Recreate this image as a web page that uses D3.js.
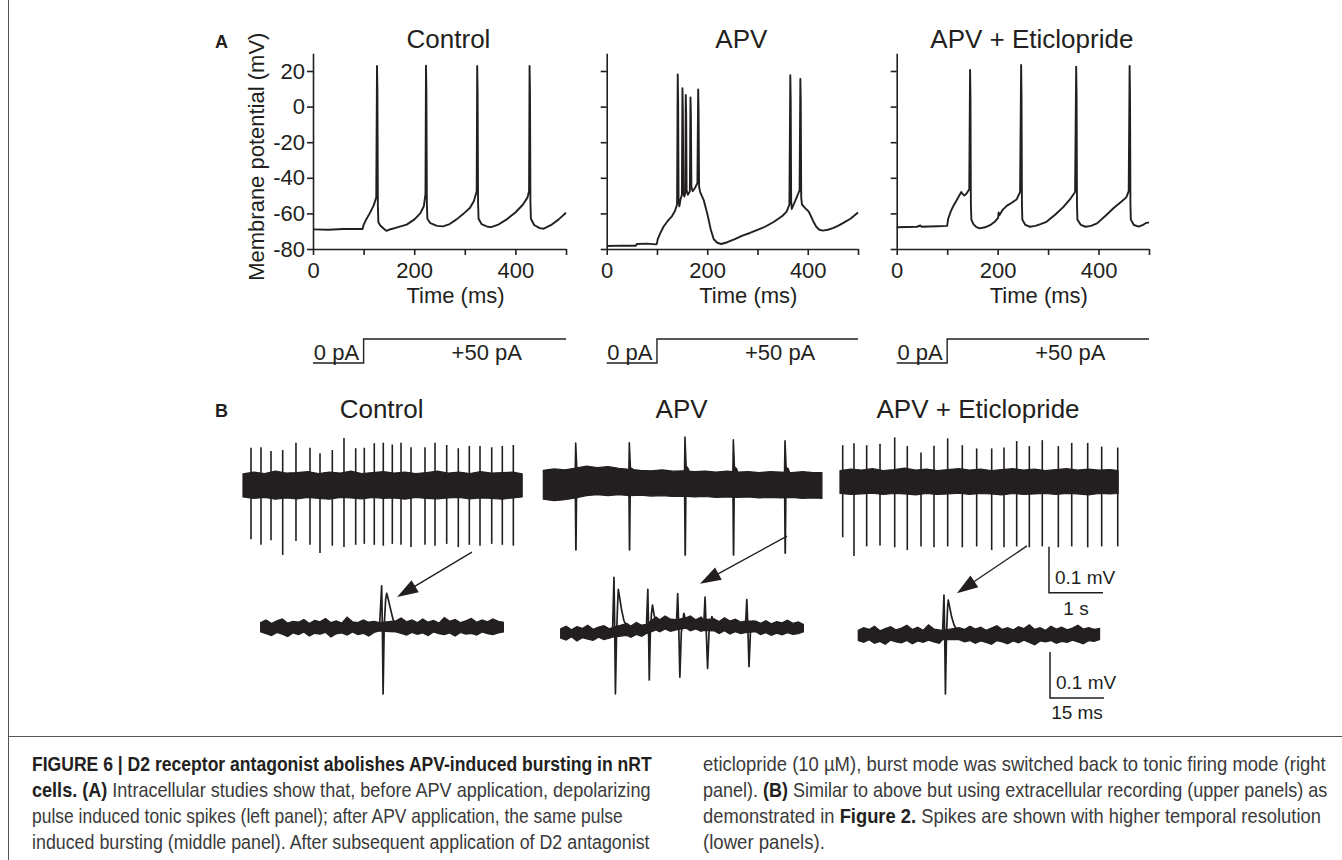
<!DOCTYPE html>
<html><head><meta charset="utf-8">
<script src="https://cdn.jsdelivr.net/npm/d3@7"></script>
<style>
body{margin:0;background:#fff;}
svg{display:block;font-family:"Liberation Sans",Arial,Helvetica,sans-serif;}
</style>
</head><body>
<svg id="fig" width="1342" height="860"></svg>
<script>
// ===================== DATA =====================
// Panel A: intracellular traces (time ms, membrane potential mV)
const panelTitles = ["Control", "APV", "APV + Eticlopride"];
const yTicksA = [-80, -60, -40, -20, 0, 20];
const xTicksA = [0, 100, 200, 300, 400, 500];
const xTickLabelsA = ["0", "", "200", "", "400", ""];
const stimLevels = [0, 50];          // pA
const stimOnset = 100;               // ms
const stimLabels = ["0 pA", "+50 pA"];

const controlTrace = [[0,-69.0],[30,-69.2],[60,-68.8],[98,-68.8],[100,-66.5],[104,-64],[112,-60],[120,-55.5],[125,-51],[126.5,22.8],[127.3,8],[128.2,-56],[129.2,-65],[133,-66.8],[140,-68.6],[145,-69.8],[150,-69.2],[165,-68],[185,-66.3],[200,-63.5],[212,-60],[219,-56],[222.3,-49],[223.3,23],[224.1,8],[225,-54],[226,-63],[232,-65.5],[245,-67],[257,-67.3],[270,-66],[283,-63.5],[298,-60],[310,-57],[318,-53],[323.5,-47.5],[324.5,22.8],[325.3,8],[326.2,-54],[327.2,-63],[333,-66],[345,-67.5],[352,-67.7],[365,-66.5],[382,-63.5],[400,-59.5],[415,-55],[424,-51],[427,-47.5],[428,22.8],[428.8,8],[429.7,-54],[430.7,-63],[437,-66.5],[448,-68.3],[456,-68.6],[470,-66.6],[485,-63.5],[500,-59.6]];

const apvTrace = [[0,-78.3],[30,-78.1],[58,-78.2],[60,-77.2],[80,-77.0],[98,-77.4],[100,-77],[101.5,-74.5],[106,-71.5],[113,-67.5],[122,-64],[130,-61.5],[136,-58.5],[140,-55],[141.3,18],[142.1,4],[143,-52],[144.5,-56],[147,-52],[149.6,-49.5],[150.7,10.3],[151.5,-2],[152.5,-49],[154.5,-50.5],[156.3,-48.5],[157.3,6.5],[158.1,-4],[159,-47],[161.5,-49.5],[165.5,-47.5],[166.7,5.2],[167.5,-5],[168.5,-45],[171,-47.5],[175,-46],[180.5,-43],[182,9.7],[182.8,-2],[183.8,-45],[186,-48],[193,-52.5],[200,-60],[207,-69],[213,-74.5],[220,-76.5],[228,-77.2],[240,-76.2],[255,-74.5],[270,-72.5],[285,-71],[300,-69.3],[315,-67.5],[333,-64.7],[350,-61.3],[358,-59],[363.5,-55],[365.3,17.7],[366.1,4],[367,-53],[368.2,-57.5],[372,-55],[378,-51],[383.8,-47],[385.3,15.5],[386.1,4],[387,-51],[388.5,-55],[395,-57],[402,-59],[407,-62],[412,-65],[417,-67.5],[423,-69.2],[430,-69.7],[440,-69.2],[450,-68.3],[460,-67],[470,-65.5],[485,-63],[500,-59.5]];

const eticTrace = [[0,-67.8],[40,-67.5],[47,-66.8],[49,-67.5],[80,-67.2],[100,-67],[102,-63],[107,-59],[112,-56],[118,-53],[123,-50.5],[128,-48],[131,-49.2],[134,-50],[138,-49],[143.8,-46.5],[145.4,20.6],[146.2,5],[147,-55],[148,-63.5],[152,-66],[158,-67.7],[165,-68.4],[175,-67.8],[185,-66.6],[195,-64.5],[201,-62.5],[202,-59.5],[203.5,-61],[210,-58],[218,-55.8],[228,-54],[238,-52],[244.5,-48],[246.6,23.4],[247.4,5],[248.2,-55],[249,-63.5],[255,-66.5],[264,-67.5],[275,-67],[285,-66],[297,-64.7],[315,-60.5],[330,-56.5],[345,-51.5],[353.5,-48],[355.7,22.4],[356.5,5],[357.3,-55],[358.1,-63.5],[365,-66.5],[374,-67.5],[385,-67],[397,-65.6],[415,-61],[430,-57],[445,-53.5],[455,-51],[459.8,-47.5],[461.6,22.8],[462.4,5],[463.2,-55],[464,-63.5],[470,-66.5],[480,-67.4],[488,-66.5],[493,-65.5],[500,-65]];

// Panel B upper: extracellular recording (time s, mV relative to baseline)
const ctrlUpDur = 5.17;
const ctrlUpSpikeT = [0.148,0.333,0.519,0.735,0.981,1.241,1.426,1.654,1.870,2.087,2.246,2.431,2.598,2.765,2.926,3.111,3.370,3.556,3.772,3.987,4.191,4.389,4.606,4.802,5.006];
const ctrlUpPeak = [0.081,0.082,0.074,0.076,0.092,0.081,0.069,0.076,0.102,0.080,0.081,0.091,0.092,0.088,0.092,0.082,0.082,0.092,0.087,0.080,0.085,0.085,0.082,0.085,0.087];
const ctrlUpTrough = [-0.118,-0.130,-0.120,-0.152,-0.122,-0.130,-0.148,-0.132,-0.135,-0.130,-0.128,-0.130,-0.132,-0.128,-0.130,-0.135,-0.130,-0.132,-0.128,-0.135,-0.130,-0.132,-0.128,-0.130,-0.132];
const ctrlBandT = [0,0.2,0.4,0.6,0.8,1.0,1.2,1.4,1.6,1.8,2.0,2.2,2.4,2.6,2.8,3.0,3.2,3.4,3.6,3.8,4.0,4.2,4.4,4.6,4.8,5.0,5.17];
const ctrlBandTop = [0.024,0.028,0.025,0.030,0.026,0.027,0.029,0.025,0.028,0.026,0.030,0.025,0.027,0.029,0.026,0.028,0.025,0.027,0.030,0.026,0.028,0.025,0.029,0.026,0.027,0.028,0.024];
const ctrlBandBot = [-0.026,-0.029,-0.027,-0.031,-0.028,-0.030,-0.027,-0.029,-0.031,-0.027,-0.028,-0.030,-0.027,-0.029,-0.028,-0.031,-0.027,-0.029,-0.030,-0.028,-0.027,-0.030,-0.028,-0.029,-0.031,-0.028,-0.026];

const apvUpDur = 5.16;
const apvUpSpikeT = [0.600,1.593,2.624,3.519,4.476];
const apvUpPeak = [0.091,0.092,0.104,0.098,0.096];
const apvUpTrough = [-0.141,-0.141,-0.152,-0.152,-0.148];
const apvBandT = [0,0.2,0.4,0.6,0.8,1.0,1.2,1.4,1.6,1.8,2.0,2.2,2.4,2.6,2.8,3.0,3.2,3.4,3.6,3.8,4.0,4.2,4.4,4.6,4.8,5.0,5.16];
const apvBandTop = [0.032,0.035,0.033,0.037,0.041,0.038,0.040,0.036,0.034,0.032,0.031,0.033,0.030,0.031,0.029,0.030,0.028,0.030,0.028,0.029,0.027,0.029,0.028,0.027,0.029,0.027,0.027];
const apvBandBot = [-0.031,-0.034,-0.032,-0.028,-0.023,-0.021,-0.023,-0.021,-0.023,-0.022,-0.024,-0.023,-0.025,-0.024,-0.026,-0.025,-0.027,-0.026,-0.027,-0.026,-0.028,-0.027,-0.028,-0.027,-0.029,-0.028,-0.029];

const eticUpDur = 5.15;
const eticUpSpikeT = [0.050,0.259,0.494,0.741,1.013,1.246,1.500,1.741,1.994,2.265,2.531,2.809,3.037,3.272,3.506,3.746,4.043,4.291,4.587,4.846,5.143];
const eticUpPeak = [0.080,0.084,0.080,0.083,0.097,0.078,0.064,0.079,0.095,0.080,0.073,0.073,0.075,0.089,0.078,0.091,0.078,0.085,0.085,0.077,0.075];
const eticUpTrough = [-0.120,-0.161,-0.140,-0.138,-0.142,-0.148,-0.140,-0.142,-0.140,-0.142,-0.140,-0.148,-0.142,-0.140,-0.142,-0.140,-0.142,-0.140,-0.142,-0.140,-0.140];
const eticBandT = [0,0.2,0.4,0.6,0.8,1.0,1.2,1.4,1.6,1.8,2.0,2.2,2.4,2.6,2.8,3.0,3.2,3.4,3.6,3.8,4.0,4.2,4.4,4.6,4.8,5.0,5.15];
const eticBandTop = [0.025,0.028,0.026,0.029,0.025,0.027,0.030,0.026,0.028,0.025,0.027,0.029,0.026,0.028,0.025,0.027,0.029,0.026,0.028,0.025,0.027,0.029,0.026,0.028,0.026,0.027,0.025];
const eticBandBot = [-0.025,-0.027,-0.026,-0.024,-0.027,-0.025,-0.026,-0.028,-0.025,-0.027,-0.026,-0.024,-0.027,-0.025,-0.026,-0.028,-0.025,-0.027,-0.026,-0.025,-0.027,-0.025,-0.026,-0.028,-0.025,-0.026,-0.025];

// Panel B lower: single spikes at high temporal resolution (time ms, mV)
const ctrlLoDur = 67.4;
const ctrlLoSpike = [[[33.0,0],[33.6,0.090],[33.8,0.0],[34.0,-0.145],[34.3,0.0],[34.7,0.060],[35.0,0.074],[35.4,0.062],[35.9,0.045],[36.8,0.016],[37.6,0.004]]];
const ctrlLoBandT = [0,1.5,3,4.5,6,7.5,9,10.5,12,13.5,15,16.5,18,19.5,21,22.5,24,25.5,27,28.5,30,31.5,33,
  37.6,39,40.5,42,43.5,45,46.5,48,49.5,51,52.5,54,55.5,57,58.5,60,61.5,63,64.5,66,67.4];
const ctrlLoTop = [.010,.016,.008,.014,.018,.009,.013,.011,.017,.008,.015,.012,.019,.010,.014,.009,.022,.012,.010,.016,.011,.013,.010,
  .014,.020,.012,.016,.010,.018,.011,.015,.009,.021,.013,.017,.010,.014,.019,.011,.016,.012,.018,.013,.011];
const ctrlLoBot = [-.010,-.014,-.018,-.011,-.015,-.020,-.012,-.016,-.010,-.019,-.013,-.015,-.011,-.021,-.014,-.012,-.017,-.010,-.016,-.013,-.019,-.011,-.008,
  -.010,-.013,-.017,-.011,-.015,-.012,-.018,-.010,-.014,-.016,-.012,-.019,-.011,-.015,-.013,-.017,-.010,-.014,-.016,-.012,-.010];

const apvLoDur = 67.4;
const apvLoSpikes = [
  [[14.4,-0.01],[14.8,0.110],[15.0,0.0],[15.2,-0.143],[15.5,-0.02],[15.8,0.05],[16.0,0.084],[16.4,0.065],[16.9,0.040],[17.6,0.015],[18.4,0.004]],
  [[23.8,0.0],[24.2,0.084],[24.4,0.0],[24.6,-0.113],[24.9,-0.01],[25.2,0.03],[25.5,0.050],[25.9,0.030],[26.5,0.012]],
  [[32.1,0.0],[32.5,0.075],[32.8,0.0],[33.1,-0.107],[33.5,-0.01],[34.2,0.032],[34.8,0.015]],
  [[39.7,0.0],[40.1,0.067],[40.4,0.0],[40.8,-0.088],[41.2,-0.01],[42.0,0.025],[42.6,0.010]],
  [[51.3,0.0],[51.7,0.062],[52.0,0.0],[52.3,-0.084],[52.7,-0.01],[53.5,0.015],[54.2,0.005]]
];
const apvLoBandT = [0,1.5,3,4.5,6,7.5,9,10.5,12,13.5,14.4,
  18.4,19.5,21,22.5,23.8,
  26.5,27.5,29,30.5,32.1,
  34.8,36,37.5,39,39.7,
  42.6,44,45.5,47,48.5,50,51.3,
  54.2,55.5,57,58.5,60,61.5,63,64.5,66,67.4];
const apvLoTop = [-.002,.004,-.004,.003,-.001,.006,-.003,.002,.005,-.002,.001,
  .010,.004,.012,.006,.008,
  .024,.018,.026,.019,.018,
  .022,.026,.018,.024,.018,
  .020,.014,.022,.015,.019,.013,.015,
  .015,.010,.016,.009,.014,.011,.017,.010,.013,.008];
const apvLoBot = [-.022,-.026,-.019,-.028,-.021,-.024,-.027,-.020,-.025,-.022,-.020,
  -.016,-.020,-.014,-.018,-.012,
  -.004,-.008,-.002,-.007,-.004,
  .000,-.006,-.002,-.007,-.005,
  -.006,-.012,-.006,-.013,-.008,-.012,-.010,
  -.008,-.014,-.010,-.016,-.011,-.015,-.010,-.014,-.012,-.008];

const eticLoDur = 67.0;
const eticLoSpike = [[[23.4,0],[23.8,0.087],[24.0,0],[24.2,-0.128],[24.5,0],[24.8,0.06],[25.0,0.076],[25.4,0.060],[25.9,0.040],[26.6,0.022],[27.3,0.012],[28.0,0.004]]];
const eticLoBandT = [0,1.5,3,4.5,6,7.5,9,10.5,12,13.5,15,16.5,18,19.5,21,22.5,23.4,
  28,29.5,31,32.5,34,35.5,37,38.5,40,41.5,43,44.5,46,47.5,49,50.5,52,53.5,55,56.5,58,59.5,61,62.5,64,65.5,67];
const eticLoTop = [.010,.016,.012,.019,.009,.014,.018,.011,.015,.021,.012,.017,.010,.022,.013,.011,.010,
  .016,.012,.019,.013,.017,.010,.015,.020,.012,.016,.011,.018,.014,.022,.012,.016,.010,.019,.013,.017,.011,.015,.021,.013,.016,.012,.014];
const eticLoBot = [-.012,-.016,-.010,-.018,-.014,-.020,-.011,-.015,-.017,-.012,-.019,-.013,-.016,-.011,-.015,-.018,-.010,
  -.010,-.015,-.012,-.018,-.013,-.016,-.020,-.012,-.015,-.019,-.013,-.017,-.011,-.016,-.021,-.013,-.015,-.012,-.018,-.014,-.016,-.011,-.015,-.019,-.012,-.014,-.010];

// Scale bars
const scaleUpper = {mV: 0.1, s: 1, labels: ["0.1 mV", "1 s"]};
const scaleLower = {mV: 0.1, ms: 15, labels: ["0.1 mV", "15 ms"]};

// Caption
const captionLeft = [
  [["FIGURE 6 | D2 receptor antagonist abolishes APV-induced bursting in nRT", true]],
  [["cells. (A)", true], [" Intracellular studies show that, before APV application, depolarizing", false]],
  [["pulse induced tonic spikes (left panel); after APV application, the same pulse", false]],
  [["induced bursting (middle panel). After subsequent application of D2 antagonist", false]]
];
const captionRight = [
  [["eticlopride (10 \u00b5M), burst mode was switched back to tonic firing mode (right", false]],
  [["panel). ", false], ["(B)", true], [" Similar to above but using extracellular recording (upper panels) as", false]],
  [["demonstrated in ", false], ["Figure 2.", true], [" Spikes are shown with higher temporal resolution", false]],
  [["(lower panels).", false]]
];

// ===================== DRAWING =====================
const ink = "#231f20";
const svg = d3.select("#fig");
const F = '"Liberation Sans",Arial,Helvetica,sans-serif';

// frame
svg.append("line").attr("x1",8.5).attr("x2",8.5).attr("y1",0).attr("y2",860).attr("stroke","#555").attr("stroke-width",1);
svg.append("line").attr("x1",8.5).attr("x2",1342).attr("y1",736.5).attr("y2",736.5).attr("stroke","#555").attr("stroke-width",1);

// ---- Panel A ----
svg.append("text").attr("x",215).attr("y",48).attr("font-size",18).attr("font-weight","bold").attr("fill",ink).text("A");

const aLayout = [
  {trace: controlTrace, x0: 313, x1: 566, labels: true},
  {trace: apvTrace, x0: 606.7, x1: 858, labels: false},
  {trace: eticTrace, x0: 896.7, x1: 1149, labels: false}
];
const yA = d3.scaleLinear().domain([-80, 30]).range([249, 53.2]);
const yStim = d3.scaleLinear().domain(stimLevels).range([363, 339]);

aLayout.forEach((p, i) => {
  const g = svg.append("g");
  const x = d3.scaleLinear().domain([0, 500]).range([p.x0, p.x1]);
  const xc = (p.x0 + p.x1) / 2;
  g.append("text").attr("x", xc + 9).attr("y", 48).attr("text-anchor","middle")
    .attr("font-size",26).attr("fill",ink).text(panelTitles[i]);
  const xAxis = g.append("g").attr("transform","translate(0,249)")
    .call(d3.axisBottom(x).tickValues(xTicksA).tickSize(6).tickSizeOuter(0).tickPadding(7)
      .tickFormat((d, k) => xTickLabelsA[k]));
  const yAxis = g.append("g").attr("transform",`translate(${p.x0},0)`)
    .call(d3.axisLeft(yA).tickValues(yTicksA).tickSize(6).tickSizeOuter(0).tickPadding(2)
      .tickFormat(p.labels ? (d => String(d)) : () => ""));
  [xAxis, yAxis].forEach(ax => {
    ax.selectAll(".domain").attr("stroke", ink).attr("stroke-width", 1.6);
    ax.selectAll(".tick line").attr("stroke", ink).attr("stroke-width", 1.6);
    ax.selectAll(".tick text").attr("fill", ink).attr("font-size", 22).attr("font-family", F);
  });
  g.append("text").attr("x", xc + 16).attr("y", 303).attr("text-anchor","middle")
    .attr("font-size",22).attr("fill",ink).text("Time (ms)");
  if (p.labels) {
    g.append("text").attr("transform","translate(264,156.7) rotate(-90)").attr("text-anchor","middle")
      .attr("font-size",22).attr("fill",ink).text("Membrane potential (mV)");
  }
  const line = d3.line().x(d => x(d[0])).y(d => yA(d[1]));
  g.append("path").datum(p.trace).attr("d", line).attr("fill","none").attr("stroke", ink)
    .attr("stroke-width", 1.9).attr("stroke-linejoin","round");
  const stimPts = [[0, stimLevels[0]], [stimOnset, stimLevels[0]], [stimOnset, stimLevels[1]], [500, stimLevels[1]]];
  g.append("path").datum(stimPts)
    .attr("d", d3.line().x(d => x(d[0])).y(d => yStim(d[1])))
    .attr("fill","none").attr("stroke", ink).attr("stroke-width", 1.4);
  g.append("text").attr("x", x(stimOnset) - 4.5).attr("y", 360).attr("text-anchor","end")
    .attr("font-size",22).attr("fill",ink).text(stimLabels[0]);
  g.append("text").attr("x", x(stimOnset) + 88).attr("y", 360)
    .attr("font-size",22).attr("fill",ink).text(stimLabels[1]);
});

// ---- Panel B ----
svg.append("text").attr("x",215).attr("y",417).attr("font-size",18).attr("font-weight","bold").attr("fill",ink).text("B");

const pxPerS = 54, pxPerMs = 3.6, pxPerMV = 460;
const upper = [
  {dur: ctrlUpDur, x0: 243, yc: 485, spT: ctrlUpSpikeT, spP: ctrlUpPeak, spN: ctrlUpTrough, bT: ctrlBandT, bTop: ctrlBandTop, bBot: ctrlBandBot, wide: false},
  {dur: apvUpDur, x0: 543.3, yc: 485, spT: apvUpSpikeT, spP: apvUpPeak, spN: apvUpTrough, bT: apvBandT, bTop: apvBandTop, bBot: apvBandBot, wide: true},
  {dur: eticUpDur, x0: 840, yc: 482, spT: eticUpSpikeT, spP: eticUpPeak, spN: eticUpTrough, bT: eticBandT, bTop: eticBandTop, bBot: eticBandBot, wide: false}
];
const lower = [
  {dur: ctrlLoDur, x0: 260.7, base: 627.3, spikes: ctrlLoSpike, bT: ctrlLoBandT, bTop: ctrlLoTop, bBot: ctrlLoBot},
  {dur: apvLoDur, x0: 560.7, base: 628, spikes: apvLoSpikes, bT: apvLoBandT, bTop: apvLoTop, bBot: apvLoBot},
  {dur: eticLoDur, x0: 858.3, base: 635, spikes: eticLoSpike, bT: eticLoBandT, bTop: eticLoTop, bBot: eticLoBot}
];
const arrowFrom = [[4.24, -0.146], [4.513, -0.111], [3.463, -0.139]];
const arrowTo = [[37.9, 0.066], [38.7, 0.096], [27.4, 0.091]];

const scales = [];
upper.forEach((u, i) => {
  const x = d3.scaleLinear().domain([0, u.dur]).range([u.x0, u.x0 + u.dur * pxPerS]);
  const y = d3.scaleLinear().domain([-0.1, 0.1]).range([u.yc + 0.1 * pxPerMV, u.yc - 0.1 * pxPerMV]);
  const lo = lower[i];
  const xl = d3.scaleLinear().domain([0, lo.dur]).range([lo.x0, lo.x0 + lo.dur * pxPerMs]);
  const yl = d3.scaleLinear().domain([-0.1, 0.1]).range([lo.base + 0.1 * pxPerMV, lo.base - 0.1 * pxPerMV]);
  scales.push({x, y, xl, yl});
  const g = svg.append("g");
  const xcen = (x.range()[0] + x.range()[1]) / 2;
  g.append("text").attr("x", xcen - 1).attr("y", 418).attr("text-anchor","middle")
    .attr("font-size",26).attr("fill",ink).text(panelTitles[i]);
  const band = u.bT.map((t, k) => [t, u.bTop[k], u.bBot[k]]);
  g.append("path").datum(band)
    .attr("d", d3.area().x(d => x(d[0])).y0(d => y(d[2])).y1(d => y(d[1])))
    .attr("fill", ink).attr("stroke", ink).attr("stroke-width", 1.2).attr("stroke-linejoin","round");
  const ln = d3.line().x(d => x(d[0])).y(d => y(d[1]));
  u.spT.forEach((t, k) => {
    if (u.wide) {
      const up = [[t - 0.012, 0], [t, u.spP[k]], [t + 0.02, u.spP[k] * 0.4], [t + 0.06, 0.035], [t + 0.1, 0.02]];
      const dn = [[t - 0.006, 0], [t + 0.004, u.spN[k]], [t + 0.016, 0]];
      g.append("path").datum(up).attr("d", ln).attr("fill", ink).attr("stroke", ink).attr("stroke-width", 1.6).attr("stroke-linejoin","round");
      g.append("path").datum(dn).attr("d", ln).attr("fill", ink).attr("stroke", ink).attr("stroke-width", 1.8).attr("stroke-linejoin","round");
    } else {
      g.append("path").datum([[t, u.spN[k]], [t, u.spP[k]]]).attr("d", ln)
        .attr("fill","none").attr("stroke", ink).attr("stroke-width", 1.6);
    }
  });
  const lband = lo.bT.map((t, k) => [t, lo.bTop[k], lo.bBot[k]]);
  g.append("path").datum(lband)
    .attr("d", d3.area().x(d => xl(d[0])).y0(d => yl(d[2])).y1(d => yl(d[1])))
    .attr("fill", ink).attr("stroke", ink).attr("stroke-width", 1.3).attr("stroke-linejoin","miter");
  const lln = d3.line().x(d => xl(d[0])).y(d => yl(d[1]));
  lo.spikes.forEach(s => {
    g.append("path").datum(s).attr("d", lln).attr("fill","none").attr("stroke", ink)
      .attr("stroke-width", 1.7).attr("stroke-linejoin","round");
  });
  const x1 = x(arrowFrom[i][0]), y1 = y(arrowFrom[i][1]);
  const x2 = xl(arrowTo[i][0]), y2 = yl(arrowTo[i][1]);
  const ang = Math.atan2(y2 - y1, x2 - x1);
  const hl = 21, hw = 7;
  const bx = x2 - hl * Math.cos(ang), by = y2 - hl * Math.sin(ang);
  g.append("line").attr("x1", x1).attr("y1", y1).attr("x2", bx + 2 * Math.cos(ang)).attr("y2", by + 2 * Math.sin(ang))
    .attr("stroke", ink).attr("stroke-width", 1.4);
  const head = [[x2, y2], [bx + hw * Math.sin(ang), by - hw * Math.cos(ang)], [bx - hw * Math.sin(ang), by + hw * Math.cos(ang)]];
  g.append("polygon").attr("points", head.map(d => d.join(",")).join(" ")).attr("fill", ink);
});

// scale bars (drawn with the rightmost panel's scales)
const sc = scales[2];
const sbUpT = 3.87, sbUpV = -0.241;
const sbG = svg.append("g").attr("fill","none").attr("stroke",ink).attr("stroke-width",1.5);
sbG.append("path").attr("d", d3.line()([
  [sc.x(sbUpT), sc.y(sbUpV + scaleUpper.mV)], [sc.x(sbUpT), sc.y(sbUpV)], [sc.x(sbUpT + scaleUpper.s), sc.y(sbUpV)]
]));
const sbLoT = 53.25, sbLoV = -0.137;
sbG.append("path").attr("d", d3.line()([
  [sc.xl(sbLoT), sc.yl(sbLoV + scaleLower.mV)], [sc.xl(sbLoT), sc.yl(sbLoV)], [sc.xl(sbLoT + scaleLower.ms), sc.yl(sbLoV)]
]));
svg.append("text").attr("x", sc.x(sbUpT) + 6).attr("y", sc.y(sbUpV + scaleUpper.mV / 2) + 14)
  .attr("font-size",19).attr("fill",ink).text(scaleUpper.labels[0]);
svg.append("text").attr("x", sc.x(sbUpT + scaleUpper.s / 2)).attr("y", sc.y(sbUpV) + 22).attr("text-anchor","middle")
  .attr("font-size",19).attr("fill",ink).text(scaleUpper.labels[1]);
svg.append("text").attr("x", sc.xl(sbLoT) + 6).attr("y", sc.yl(sbLoV + scaleLower.mV / 2) + 14)
  .attr("font-size",19).attr("fill",ink).text(scaleLower.labels[0]);
svg.append("text").attr("x", sc.xl(sbLoT + scaleLower.ms / 2)).attr("y", sc.yl(sbLoV) + 21).attr("text-anchor","middle")
  .attr("font-size",19).attr("fill",ink).text(scaleLower.labels[1]);

// ---- Caption ----
const capBase = [771, 797, 823, 848.5];
const capLeftW = [620, 619, 591, 618];
const capRightW = [623, 625, 618, 122];
function caption(lines, x0, widths) {
  lines.forEach((ln, k) => {
    const t = svg.append("text").attr("font-size", 20).attr("style","white-space:pre");
    ln.forEach(([s, b]) => {
      t.append("tspan").attr("font-weight", b ? "bold" : "normal").attr("fill", b ? ink : "#3a3a3a").text(s);
    });
    const w = t.node().getComputedTextLength();
    t.attr("transform", `translate(${x0},${capBase[k]}) scale(${widths[k] / w},1)`);
  });
}
caption(captionLeft, 32, capLeftW);
caption(captionRight, 703, capRightW);
</script>
</body></html>
